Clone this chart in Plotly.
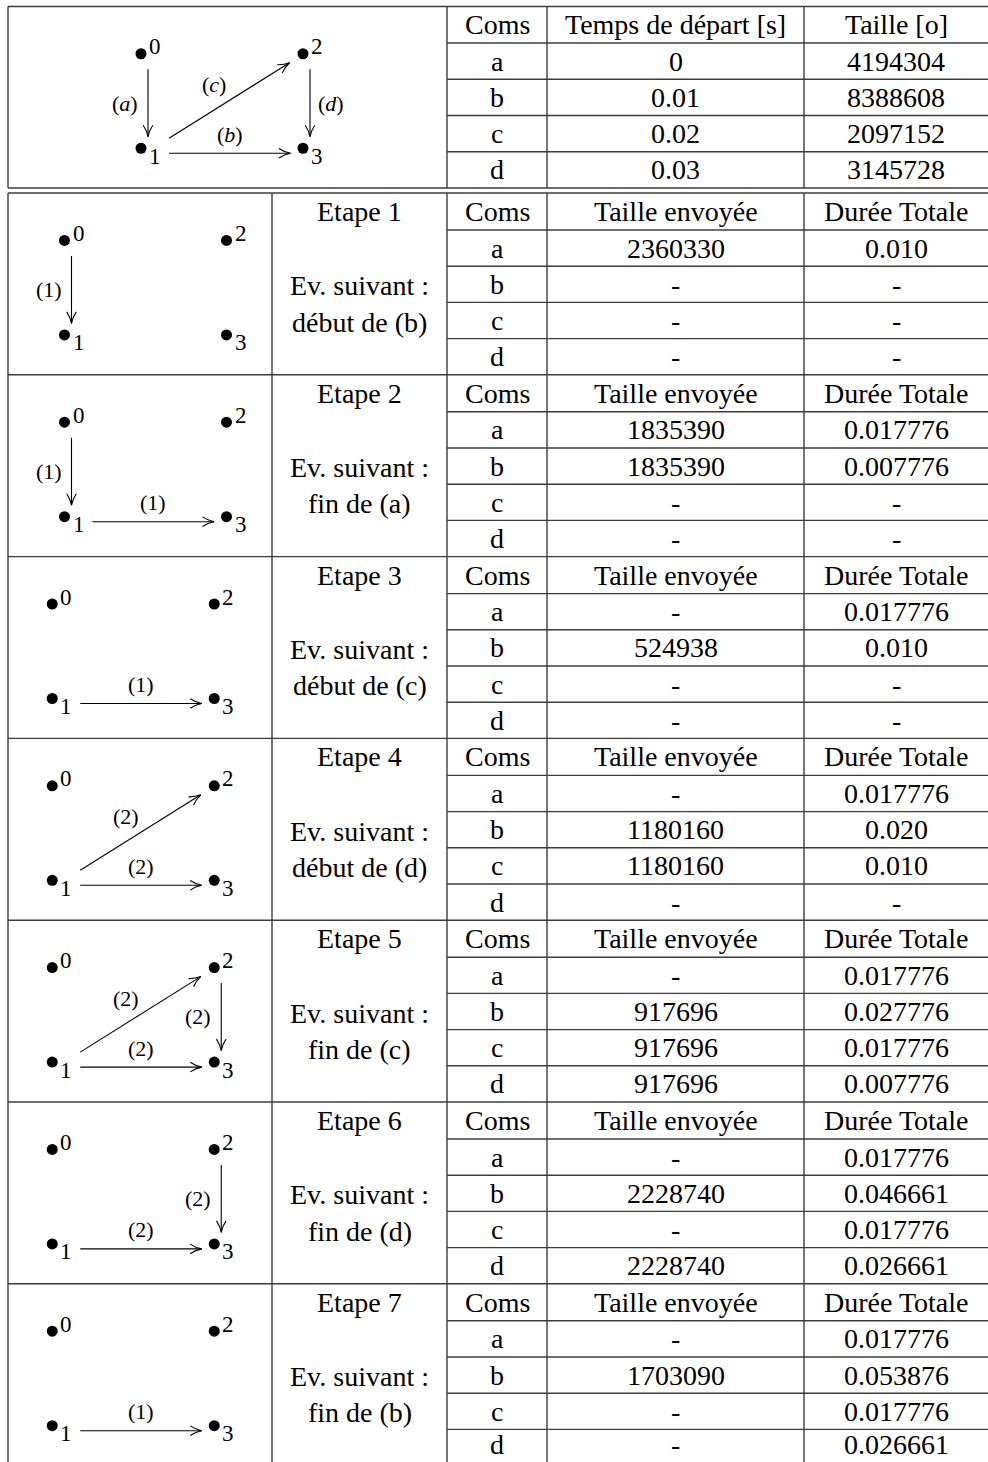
import plotly.graph_objects as go

W, H = 988, 1462

# ---------------- data ----------------
overview_header = ["Coms", "Temps de départ [s]", "Taille [o]"]
coms = ["a", "b", "c", "d"]
start_times = ["0", "0.01", "0.02", "0.03"]
sizes = ["4194304", "8388608", "2097152", "3145728"]
overview_edges = [(0, 1, "a"), (1, 3, "b"), (1, 2, "c"), (2, 3, "d")]
overview_right_labels = ["d"]

step_header = ["Coms", "Taille envoyée", "Durée Totale"]
step_titles = ["Etape 1", "Etape 2", "Etape 3", "Etape 4", "Etape 5", "Etape 6", "Etape 7"]
next_event_label = "Ev. suivant :"
next_events = ["début de (b)", "fin de (a)", "début de (c)", "début de (d)",
               "fin de (c)", "fin de (d)", "fin de (b)"]
sent_sizes = [
    ["2360330", "-", "-", "-"],
    ["1835390", "1835390", "-", "-"],
    ["-", "524938", "-", "-"],
    ["-", "1180160", "1180160", "-"],
    ["-", "917696", "917696", "917696"],
    ["-", "2228740", "-", "2228740"],
    ["-", "1703090", "-", "-"],
]
total_durations = [
    ["0.010", "-", "-", "-"],
    ["0.017776", "0.007776", "-", "-"],
    ["0.017776", "0.010", "-", "-"],
    ["0.017776", "0.020", "0.010", "-"],
    ["0.017776", "0.027776", "0.017776", "0.007776"],
    ["0.017776", "0.046661", "0.017776", "0.026661"],
    ["0.017776", "0.053876", "0.017776", "0.026661"],
]
step_edges = [
    [(0, 1, "1")],
    [(0, 1, "1"), (1, 3, "1")],
    [(1, 3, "1")],
    [(1, 2, "2"), (1, 3, "2")],
    [(1, 2, "2"), (2, 3, "2"), (1, 3, "2")],
    [(2, 3, "2"), (1, 3, "2")],
    [(1, 3, "1")],
]

# ---------------- layout constants ----------------
X_LEFT, X_DIAG, X_TAB, X_C1, X_C2, X_RIGHT = 8, 272, 447, 547, 804, 990
TOP0, HEAD0, ROW0 = 6.5, 36.5, 36.25
BLOCK0, BLOCK_H, HEAD_B = 193.0, 181.8, 37.0
ROW_B = (BLOCK_H - HEAD_B) / 4
LINE_C = "#3c3c3c"
LINE_W = 1.4
SERIF = "Liberation Serif, Times New Roman, serif"
TXT_FONT = dict(family=SERIF, size=28, color="black")
LBL_FONT = dict(family=SERIF, size=22, color="black")
NODE_FONT = dict(family=SERIF, size=23, color="black")
NODE_DX, NODE_DY = 162.0, 94.5

shapes = []
annotations = []
dots_x, dots_y = [], []


def hline(y, x0, x1):
    shapes.append(dict(type="line", xref="x", yref="y", x0=x0, x1=x1, y0=y, y1=y,
                       line=dict(color=LINE_C, width=LINE_W)))


def vline(x, y0, y1):
    shapes.append(dict(type="line", xref="x", yref="y", x0=x, x1=x, y0=y0, y1=y1,
                       line=dict(color=LINE_C, width=LINE_W)))


def text(x, y, s, font=TXT_FONT):
    y = min(y, H - 0.62 * font["size"])
    annotations.append(dict(x=x, y=y, xref="x", yref="y", text=s, showarrow=False,
                            xanchor="center", yanchor="middle", font=font))


def arrow(x0, y0, x1, y1):
    shapes.append(dict(type="line", xref="x", yref="y", x0=x0, y0=y0, x1=x1, y1=y1,
                       line=dict(color="black", width=1.1)))
    dx, dy = x1 - x0, y1 - y0
    n = (dx * dx + dy * dy) ** 0.5
    ux, uy = dx / n, dy / n
    px, py = -uy, ux
    L, w = 11.5, 4.8
    bx, by = x1 - L * ux, y1 - L * uy
    cx1, cy1 = x1 - 0.55 * L * ux + 1.2 * px, y1 - 0.55 * L * uy + 1.2 * py
    cx2, cy2 = x1 - 0.55 * L * ux - 1.2 * px, y1 - 0.55 * L * uy - 1.2 * py
    path = (f"M {bx + w * px:.2f},{by + w * py:.2f} Q {cx1:.2f},{cy1:.2f} {x1:.2f},{y1:.2f} "
            f"Q {cx2:.2f},{cy2:.2f} {bx - w * px:.2f},{by - w * py:.2f}")
    shapes.append(dict(type="path", xref="x", yref="y", path=path,
                       line=dict(color="black", width=1.1)))


def graph(cx, cy, edges, right_labels=(), italic=False):
    rel = {0: (0.0, 0.0), 1: (0.0, NODE_DY), 2: (NODE_DX, 0.0), 3: (NODE_DX, NODE_DY)}
    left, right = -5.5, NODE_DX + 19
    for s, d, lab in edges:
        if rel[s][0] == rel[d][0]:
            xl = rel[s][0] + 7
            if lab in right_labels:
                right = max(right, xl + 34)
            else:
                left = min(left, xl - 37)
    ox = cx - (left + right) / 2
    oy = cy - 43.5
    pos = {k: (v[0] + ox, v[1] + oy) for k, v in rel.items()}
    for k in range(4):
        x, y = pos[k]
        dots_x.append(x)
        dots_y.append(y)
        if k in (0, 2):
            text(x + 14, y - 7, str(k), NODE_FONT)
        else:
            text(x + 14, y + 8, str(k), NODE_FONT)
    for s, d, lab in edges:
        sx, sy = pos[s]
        tx, ty = pos[d]
        lab_txt = f"(<i>{lab}</i>)" if italic else f"({lab})"
        if sx == tx:  # vertical
            xl = sx + 7
            y0, y1 = sy + 15.5, ty - 11.5
            arrow(xl, y0, xl, y1)
            lx = xl + 21 if lab in right_labels else xl - 23
            text(lx, (y0 + y1) / 2, lab_txt, LBL_FONT)
        elif sy == ty:  # horizontal
            yl = sy + 5
            x0, x1 = sx + 28, tx - 12.5
            arrow(x0, yl, x1, yl)
            text((x0 + x1) / 2, yl - 19, lab_txt, LBL_FONT)
        else:  # diagonal
            x0, y0 = sx + 28, sy - 10
            x1, y1 = tx - 13.5, ty + 9
            arrow(x0, y0, x1, y1)
            text((x0 + x1) / 2 - 15, (y0 + y1) / 2 - 16, lab_txt, LBL_FONT)


col_centers = [(X_TAB + X_C1) / 2, (X_C1 + X_C2) / 2, (X_C2 + 988) / 2]

# ---------------- overview table ----------------
bottom0 = TOP0 + HEAD0 + 4 * ROW0
hline(TOP0, X_LEFT, X_RIGHT)
hline(bottom0, X_LEFT, X_RIGHT)
for i in range(4):
    hline(TOP0 + HEAD0 + i * ROW0, X_TAB, X_RIGHT)
for x in (X_LEFT, X_TAB, X_C1, X_C2):
    vline(x, TOP0, bottom0)
for j, h in enumerate(overview_header):
    text(col_centers[j], TOP0 + HEAD0 / 2, h)
for i in range(4):
    yc = TOP0 + HEAD0 + (i + 0.5) * ROW0
    for j, v in enumerate([coms[i], start_times[i], sizes[i]]):
        text(col_centers[j], yc, v)
graph((X_LEFT + X_TAB) / 2, (TOP0 + bottom0) / 2, overview_edges,
      right_labels=overview_right_labels, italic=True)

# ---------------- step blocks ----------------
for k in range(len(step_titles)):
    top = BLOCK0 + k * BLOCK_H
    bot = top + BLOCK_H
    hline(top, X_LEFT, X_RIGHT)
    for i in range(4):
        hline(top + HEAD_B + i * ROW_B, X_TAB, X_RIGHT)
    for x in (X_LEFT, X_DIAG, X_TAB, X_C1, X_C2):
        vline(x, top, bot)
    for j, h in enumerate(step_header):
        text(col_centers[j], top + HEAD_B / 2, h)
    for i in range(4):
        yc = top + HEAD_B + (i + 0.5) * ROW_B
        for j, v in enumerate([coms[i], sent_sizes[k][i], total_durations[k][i]]):
            text(col_centers[j], yc, v)
    mid = (X_DIAG + X_TAB) / 2
    text(mid, top + HEAD_B / 2, step_titles[k])
    text(mid, top + HEAD_B + 1.5 * ROW_B + 1.5, next_event_label)
    text(mid, top + HEAD_B + 2.5 * ROW_B + 1.5, next_events[k])
    graph((X_LEFT + X_DIAG) / 2, top + BLOCK_H / 2, step_edges[k])

fig = go.Figure()
fig.add_trace(go.Scatter(x=dots_x, y=dots_y, mode="markers",
                         marker=dict(size=11, color="black"), hoverinfo="skip",
                         showlegend=False))
fig.update_layout(
    width=W, height=H, margin=dict(l=0, r=0, t=0, b=0),
    paper_bgcolor="white", plot_bgcolor="white",
    xaxis=dict(range=[0, W], visible=False, fixedrange=True),
    yaxis=dict(range=[H, 0], visible=False, fixedrange=True),
    shapes=shapes, annotations=annotations, showlegend=False,
)
fig.write_html("out.html", config={"displayModeBar": False, "staticPlot": True},
               post_script="document.body.style.margin='0';document.body.style.padding='0';")
